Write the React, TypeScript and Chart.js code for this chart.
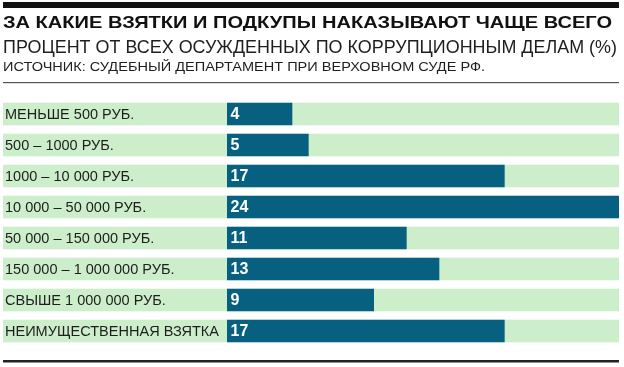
import React, { useEffect, useRef } from "react";
import { Chart, registerables } from "chart.js";

Chart.register(...registerables);

const TITLE = "ЗА КАКИЕ ВЗЯТКИ И ПОДКУПЫ НАКАЗЫВАЮТ ЧАЩЕ ВСЕГО";
const SUBTITLE = "ПРОЦЕНТ ОТ ВСЕХ ОСУЖДЕННЫХ ПО КОРРУПЦИОННЫМ ДЕЛАМ (%)";
const SOURCE = "ИСТОЧНИК: СУДЕБНЫЙ ДЕПАРТАМЕНТ ПРИ ВЕРХОВНОМ СУДЕ РФ.";

const categories = [
  "МЕНЬШЕ 500 РУБ.",
  "500 – 1000 РУБ.",
  "1000 – 10 000 РУБ.",
  "10 000 – 50 000 РУБ.",
  "50 000 – 150 000 РУБ.",
  "150 000 – 1 000 000 РУБ.",
  "СВЫШЕ 1 000 000 РУБ.",
  "НЕИМУЩЕСТВЕННАЯ ВЗЯТКА",
];
const shares = [4, 5, 17, 24, 11, 13, 9, 17];
const axisMax = 24;

const DARK = "#07607f";
const GREEN = "#cdeecb";
const FONT = "'Liberation Sans', Arial, sans-serif";

function fitText(
  ctx: CanvasRenderingContext2D,
  text: string,
  x: number,
  y: number,
  font: string,
  width: number,
  color: string
) {
  ctx.save();
  ctx.font = font;
  ctx.fillStyle = color;
  ctx.textAlign = "left";
  ctx.textBaseline = "alphabetic";
  const w = ctx.measureText(text).width;
  const s = width / w;
  ctx.translate(x, y);
  ctx.scale(s, 1);
  ctx.fillText(text, 0, 0);
  ctx.restore();
}

const decorPlugin = {
  id: "decor",
  beforeDatasetsDraw(chart: any) {
    const ctx = chart.ctx as CanvasRenderingContext2D;
    const meta = chart.getDatasetMeta(0);
    const right = chart.chartArea.right;
    ctx.save();
    ctx.fillStyle = GREEN;
    meta.data.forEach((bar: any) => {
      const h = bar.height;
      ctx.fillRect(3, bar.y - h / 2, right - 3, h);
    });
    ctx.restore();
  },
  afterDatasetsDraw(chart: any) {
    const ctx = chart.ctx as CanvasRenderingContext2D;
    const meta = chart.getDatasetMeta(0);
    ctx.save();
    ctx.font = `14px ${FONT}`;
    const longest = Math.max(...categories.map((c) => ctx.measureText(c).width));
    const s = 214 / longest;
    ctx.textBaseline = "middle";
    meta.data.forEach((bar: any, i: number) => {
      ctx.save();
      ctx.font = `14px ${FONT}`;
      ctx.fillStyle = "#1e1e1e";
      ctx.textAlign = "left";
      ctx.translate(5, bar.y + 1);
      ctx.scale(s, 1);
      ctx.fillText(categories[i], 0, 0);
      ctx.restore();
      ctx.font = `bold 16px ${FONT}`;
      ctx.fillStyle = "#ffffff";
      ctx.fillText(String(shares[i]), bar.base + 3.5, bar.y + 1);
    });
    ctx.restore();

    // header
    ctx.save();
    ctx.fillStyle = "#111111";
    ctx.fillRect(3, 2, 616, 6);
    fitText(ctx, TITLE, 3, 28, `bold 17px ${FONT}`, 609, "#111111");
    fitText(ctx, SUBTITLE, 3, 53, `18px ${FONT}`, 614, "#1e1e1e");
    fitText(ctx, SOURCE, 3, 71, `13.5px ${FONT}`, 482, "#1e1e1e");
    ctx.fillStyle = "#555555";
    ctx.fillRect(3, 82, 616, 1.2);
    ctx.fillStyle = "#222222";
    ctx.fillRect(3, 360, 616, 2.5);
    ctx.restore();
  },
};

export default function App() {
  const ref = useRef<HTMLCanvasElement | null>(null);
  useEffect(() => {
    document.body.style.margin = "0";
    const canvas = ref.current!;
    const chart = new Chart(canvas, {
      type: "bar",
      data: {
        labels: categories,
        datasets: [
          {
            data: shares,
            backgroundColor: DARK,
            borderWidth: 0,
            barPercentage: 0.73,
            categoryPercentage: 1,
          },
        ],
      },
      options: {
        indexAxis: "y",
        animation: false,
        responsive: false,
        maintainAspectRatio: false,
        layout: { padding: { left: 227, right: 5, top: 98.5, bottom: 20.5 } },
        plugins: { legend: { display: false }, tooltip: { enabled: false } },
        scales: {
          x: { display: false, min: 0, max: axisMax },
          y: { display: false },
        },
      },
      plugins: [decorPlugin],
    });
    return () => chart.destroy();
  }, []);
  return (
    <div style={{ width: 624, height: 367, background: "#fff" }}>
      <canvas ref={ref} width={624} height={367} style={{ display: "block" }} />
    </div>
  );
}
